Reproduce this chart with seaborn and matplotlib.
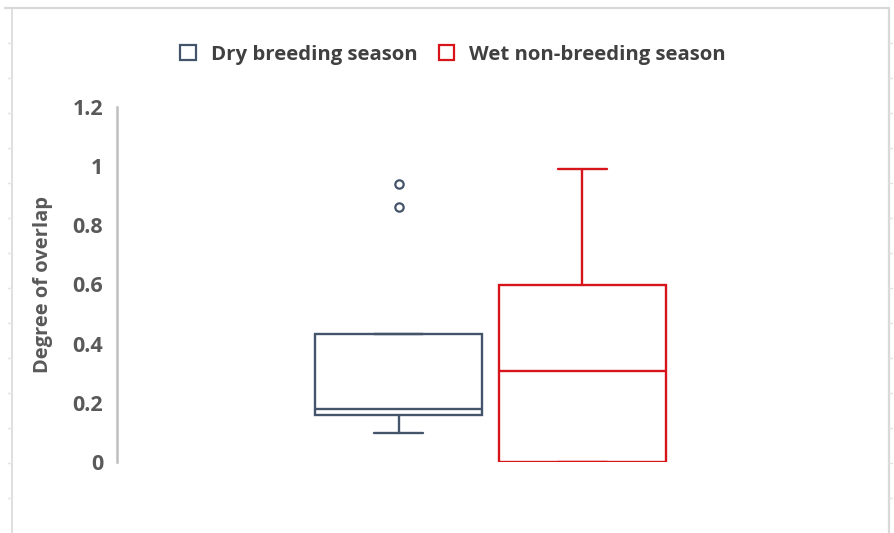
import matplotlib
matplotlib.use("Agg")
import matplotlib.pyplot as plt
import matplotlib.lines as mlines
import matplotlib.patches as mpatches
import seaborn as sns

# ---- data ----
series = ["Dry breeding season", "Wet non-breeding season"]
colors = ["#44546A", "#D7141A"]
whisker_low = [0.099, 0.0]
q1 = [0.159, 0.0]
median = [0.179, 0.308]
q3 = [0.433, 0.600]
whisker_high = [0.433, 0.990]
outliers = [[0.939, 0.861], []]
yticks = [0, 0.2, 0.4, 0.6, 0.8, 1, 1.2]
ytick_labels = ["0", "0.2", "0.4", "0.6", "0.8", "1", "1.2"]
ylabel = "Degree of overlap"

sns.set_theme(style="white")
plt.rcParams["font.family"] = ["Open Sans", "DejaVu Sans"]

W, H = 895, 533
fig = plt.figure(figsize=(W / 100, H / 100), dpi=100)
ax = fig.add_axes([117 / W, 1 - 462 / H, (864 - 117) / W, (462 - 107) / H])

for i, name in enumerate(series):
    stats = [dict(whislo=whisker_low[i], q1=q1[i], med=median[i], q3=q3[i],
                  whishi=whisker_high[i], fliers=outliers[i], label=name)]
    c = colors[i]
    ax.bxp(stats, positions=[i], widths=0.908, capwidths=0.266,
           showfliers=True, patch_artist=True,
           boxprops=dict(facecolor="white", edgecolor=c, linewidth=1.7),
           medianprops=dict(color=c, linewidth=1.7),
           whiskerprops=dict(color=c, linewidth=1.7),
           capprops=dict(color=c, linewidth=1.7),
           flierprops=dict(marker="o", markersize=6, markerfacecolor="white",
                           markeredgecolor=c, markeredgewidth=1.6, linestyle="none"))

ax.set_xlim(-1.530, 2.530)
ax.set_ylim(0, 1.2)
ax.set_xticks([])
ax.set_yticks(yticks)
ax.set_yticklabels(ytick_labels, fontsize=15.5, fontweight="bold", color="#595959")
ax.tick_params(axis="y", length=0, pad=10)
for s in ["top", "right", "bottom"]:
    ax.spines[s].set_visible(False)
ax.spines["left"].set_color("#BFBFBF")
ax.spines["left"].set_linewidth(1.8)
ax.set_ylabel(ylabel, fontsize=14.5, fontweight="bold", color="#595959")
ax.yaxis.set_label_coords(-0.086, 0.5)
ax.patch.set_alpha(0)

handles = [mpatches.Patch(facecolor="white", edgecolor=colors[i], linewidth=1.6, label=series[i])
           for i in range(len(series))]
fig.legend(handles=handles, loc="center", bbox_to_anchor=(453 / W, 1 - 55 / H),
           ncol=2, frameon=False, handlelength=0.74, handleheight=0.74,
           handletextpad=0.74, columnspacing=1.05,
           prop=dict(size=14.7, weight="bold"), labelcolor="#404040")

# outer chart frame
fc = "#D9D9D9"
tr = fig.transFigure
fig.add_artist(mlines.Line2D([5 / W, 889 / W], [1 - 8 / H, 1 - 8 / H], color=fc, lw=1.6, transform=tr))
fig.add_artist(mlines.Line2D([889 / W, 889 / W], [0, 1 - 8 / H], color=fc, lw=1.6, transform=tr))
fig.add_artist(mlines.Line2D([12 / W, 12 / W], [0, 1 - 8 / H], color=fc, lw=1.2, transform=tr))
for k in range(15):
    yy = 1 - (43 + 35 * k) / H
    if yy <= 0:
        break
    fig.add_artist(mlines.Line2D([8 / W, 12 / W], [yy, yy], color="#E3E3E3", lw=1.0, transform=tr))
    fig.add_artist(mlines.Line2D([889 / W, 892 / W], [yy, yy], color="#E3E3E3", lw=1.0, transform=tr))

fig.savefig("out.png", dpi=100, facecolor="white")
